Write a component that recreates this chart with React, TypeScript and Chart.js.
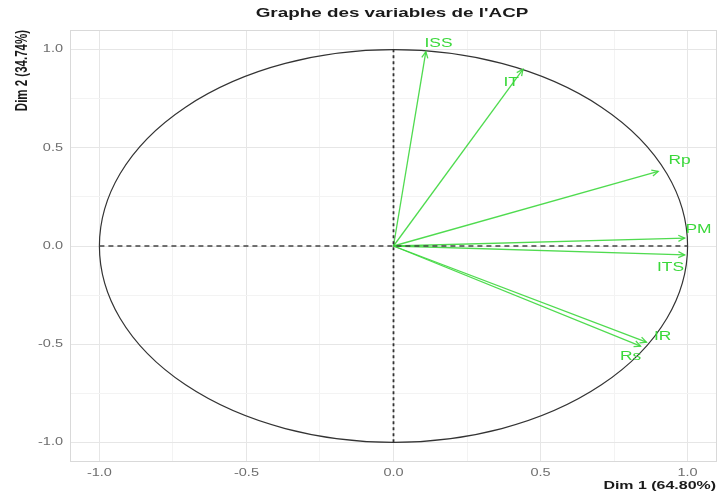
import React, { useEffect, useRef } from "react";
import { Chart, registerables } from "chart.js";

Chart.register(...registerables);

const TITLE = "Graphe des variables de l'ACP";
const X_TITLE = "Dim 1 (64.80%)";
const Y_TITLE = "Dim 2 (34.74%)";

const variables = ["ISS", "IT", "Rp", "PM", "ITS", "IR", "Rs"];
const dim1 = [0.11, 0.44, 0.9, 0.99, 0.99, 0.86, 0.84];
const dim2 = [0.99, 0.9, 0.38, 0.04, -0.045, -0.49, -0.51];
const labelX = [0.153, 0.4, 0.973, 1.037, 0.942, 0.915, 0.806];
const labelY = [1.03, 0.83, 0.434, 0.082, -0.112, -0.464, -0.566];

const tickValues = [-1, -0.75, -0.5, -0.25, 0, 0.25, 0.5, 0.75, 1];
const tickLabels = ["-1.0", "", "-0.5", "", "0.0", "", "0.5", "", "1.0"];
const axisMin = -1.1;
const axisMax = 1.1;

const GREEN = "#3ad83a";
const GREEN_LINE = "rgba(60,215,60,0.9)";
const FONT = "'Liberation Sans', Arial, sans-serif";
const STRETCH = 1.45;

const isMajor = (v: number) => Math.abs(v * 2 - Math.round(v * 2)) < 1e-6;

function stretchedText(ctx: any, text: string, x: number, y: number, align: string) {
  ctx.save();
  ctx.translate(x, y);
  ctx.scale(STRETCH, 1);
  ctx.textAlign = align;
  ctx.fillText(text, 0, 0);
  ctx.restore();
}

export default function App() {
  const ref = useRef<HTMLCanvasElement>(null);

  useEffect(() => {
    document.body.style.margin = "0";
    const canvas = ref.current!;

    const datasets: any[] = [];
    datasets.push({
      data: [
        { x: -1, y: 0 },
        { x: 1, y: 0 },
      ],
      showLine: true,
      borderColor: "#444",
      borderWidth: 1.4,
      borderDash: [5, 4],
      pointRadius: 0,
    });
    datasets.push({
      data: [
        { x: 0, y: -1 },
        { x: 0, y: 1 },
      ],
      showLine: true,
      borderColor: "#333",
      borderWidth: 1.8,
      borderDash: [3, 3],
      pointRadius: 0,
    });
    variables.forEach((name, i) => {
      datasets.push({
        label: name,
        data: [
          { x: 0, y: 0 },
          { x: dim1[i], y: dim2[i] },
        ],
        showLine: true,
        borderColor: GREEN_LINE,
        borderWidth: 1.3,
        pointRadius: 0,
      });
    });

    const decor = {
      id: "decor",
      beforeDatasetsDraw(chart: any) {
        const { ctx, scales, chartArea } = chart;
        const xs = scales.x;
        const ys = scales.y;
        ctx.save();
        ctx.strokeStyle = "#d9d9d9";
        ctx.lineWidth = 1;
        ctx.strokeRect(chartArea.left + 0.5, chartArea.top + 0.5, chartArea.right - chartArea.left - 1, chartArea.bottom - chartArea.top - 1);
        const cx = xs.getPixelForValue(0);
        const cy = ys.getPixelForValue(0);
        const rx = xs.getPixelForValue(1) - cx;
        const ry = cy - ys.getPixelForValue(1);
        ctx.beginPath();
        ctx.ellipse(cx, cy, rx, ry, 0, 0, Math.PI * 2);
        ctx.strokeStyle = "#333";
        ctx.lineWidth = 1.2;
        ctx.stroke();
        ctx.restore();
      },
      afterDatasetsDraw(chart: any) {
        const { ctx, scales } = chart;
        const xs = scales.x;
        const ys = scales.y;
        ctx.save();
        variables.forEach((name, i) => {
          const x0 = xs.getPixelForValue(0);
          const y0 = ys.getPixelForValue(0);
          const x1 = xs.getPixelForValue(dim1[i]);
          const y1 = ys.getPixelForValue(dim2[i]);
          const ang = Math.atan2(y1 - y0, x1 - x0);
          const len = 7;
          const spread = 0.45;
          ctx.beginPath();
          ctx.moveTo(x1 - len * Math.cos(ang - spread), y1 - len * Math.sin(ang - spread));
          ctx.lineTo(x1, y1);
          ctx.lineTo(x1 - len * Math.cos(ang + spread), y1 - len * Math.sin(ang + spread));
          ctx.strokeStyle = GREEN_LINE;
          ctx.lineWidth = 1.3;
          ctx.stroke();
        });
        ctx.fillStyle = GREEN;
        ctx.font = `12px ${FONT}`;
        ctx.textBaseline = "middle";
        variables.forEach((name, i) => {
          stretchedText(ctx, name, xs.getPixelForValue(labelX[i]), ys.getPixelForValue(labelY[i]), "center");
        });
        ctx.restore();
      },
      afterDraw(chart: any) {
        const { ctx, chartArea, scales } = chart;
        const xs = scales.x;
        const ys = scales.y;
        ctx.save();
        // tick labels
        ctx.fillStyle = "#6e6e6e";
        ctx.font = `10px ${FONT}`;
        ctx.textBaseline = "middle";
        tickValues.forEach((v, i) => {
          if (!tickLabels[i]) return;
          stretchedText(ctx, tickLabels[i], xs.getPixelForValue(v), chartArea.bottom + 11, "center");
          stretchedText(ctx, tickLabels[i], chartArea.left - 7, ys.getPixelForValue(v), "right");
        });
        // title
        ctx.fillStyle = "#1a1a1a";
        ctx.font = `bold 13px ${FONT}`;
        stretchedText(ctx, TITLE, 392, 13, "center");
        // x title
        ctx.font = `bold 11px ${FONT}`;
        stretchedText(ctx, X_TITLE, 716, 486, "right");
        // y title
        ctx.font = `bold 11.5px ${FONT}`;
        ctx.translate(22, chartArea.top);
        ctx.rotate(-Math.PI / 2);
        ctx.scale(1, STRETCH);
        ctx.textAlign = "right";
        ctx.fillText(Y_TITLE, 0, 0);
        ctx.restore();
      },
    };

    const gridColor = (c: any) => (isMajor(c.tick.value) ? "#e6e6e6" : "#f3f3f3");

    const chart = new Chart(canvas, {
      type: "scatter",
      data: { datasets },
      options: {
        responsive: false,
        animation: false,
        layout: { padding: { top: 30, left: 0, right: 0, bottom: 0 } },
        plugins: {
          legend: { display: false },
          tooltip: { enabled: false },
          title: { display: false },
        },
        scales: {
          x: {
            type: "linear",
            min: axisMin,
            max: axisMax,
            afterBuildTicks: (s: any) => {
              s.ticks = tickValues.map((v) => ({ value: v }));
            },
            afterFit: (s: any) => {
              s.height = 33;
            },
            ticks: { display: false },
            grid: { color: gridColor, drawTicks: false, lineWidth: 1 },
            border: { display: false },
          },
          y: {
            type: "linear",
            min: axisMin,
            max: axisMax,
            afterBuildTicks: (s: any) => {
              s.ticks = tickValues.map((v) => ({ value: v }));
            },
            afterFit: (s: any) => {
              s.width = 70;
            },
            ticks: { display: false },
            grid: { color: gridColor, drawTicks: false, lineWidth: 1 },
            border: { display: false },
          },
        },
      },
      plugins: [decor],
    } as any);

    return () => chart.destroy();
  }, []);

  return (
    <div style={{ position: "absolute", left: 0, top: 0, width: 717, height: 495, background: "#fff" }}>
      <canvas ref={ref} width={717} height={495} />
    </div>
  );
}
